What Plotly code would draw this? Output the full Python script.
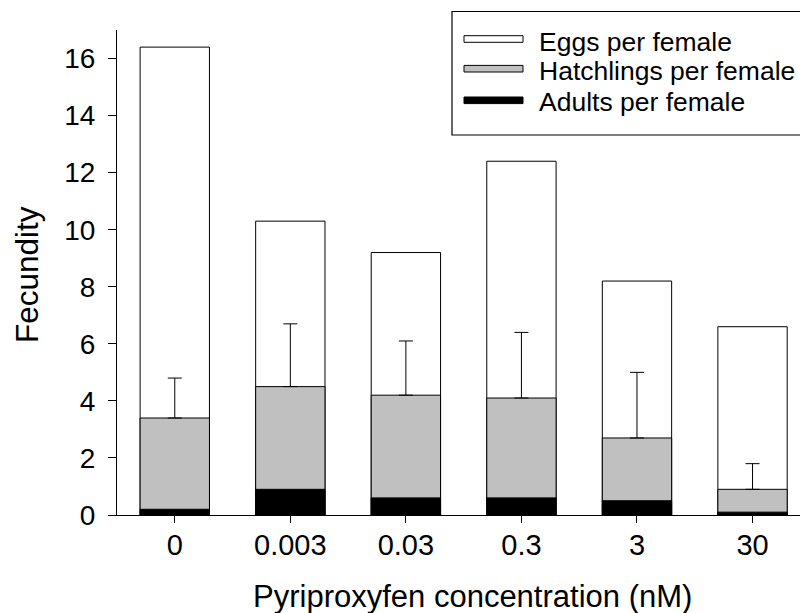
import plotly.graph_objects as go

# ---- data ----
concentrations = ["0", "0.003", "0.03", "0.3", "3", "30"]
eggs_per_female = [16.4, 10.3, 9.2, 12.4, 8.2, 6.6]
hatchlings_per_female = [3.4, 4.5, 4.2, 4.1, 2.7, 0.9]
hatchlings_err_upper = [1.4, 2.2, 1.9, 2.3, 2.3, 0.9]
adults_per_female = [0.2, 0.9, 0.6, 0.6, 0.5, 0.1]
series_names = ["Eggs per female", "Hatchlings per female", "Adults per female"]
series_colors = ["#FFFFFF", "#C0C0C0", "#000000"]

# the page body has an 8px margin, so the figure is drawn 8px in from the top-left
OFF = 8
W, H = 808 - OFF, 613 - OFF
ML, MR, MT, MB = 117 - OFF, 0, 30 - OFF, 613 - 515
PW, PH = W - ML - MR, H - MT - MB
FONT = "Liberation Sans, Arial, sans-serif"


def px_x(px):  # screen px -> paper
    return (px - OFF - ML) / PW


def px_y(py):  # screen px -> paper
    return (MT + PH - (py - OFF)) / PH


fig = go.Figure()
x_idx = list(range(len(concentrations)))

fig.add_trace(go.Bar(
    x=x_idx, y=eggs_per_female, width=0.6, name=series_names[0],
    marker=dict(color=series_colors[0], line=dict(color="black", width=1)),
    showlegend=False,
))
fig.add_trace(go.Bar(
    x=x_idx, y=hatchlings_per_female, width=0.6, name=series_names[1],
    marker=dict(color=series_colors[1], line=dict(color="black", width=1)),
    error_y=dict(type="data", symmetric=False, array=hatchlings_err_upper,
                 arrayminus=[0] * len(hatchlings_err_upper),
                 color="black", thickness=1, width=7),
    showlegend=False,
))
fig.add_trace(go.Bar(
    x=x_idx, y=adults_per_female, width=0.6, name=series_names[2],
    marker=dict(color=series_colors[2], line=dict(color="black", width=1)),
    showlegend=False,
))

# ---- custom legend (long flat swatches) ----
shapes = [dict(type="rect", xref="paper", yref="paper",
               x0=px_x(452), x1=px_x(812), y0=px_y(135), y1=px_y(11.5),
               line=dict(color="black", width=1.2), fillcolor="white", layer="above")]
annotations = []
row_sym_y = [39, 68.7, 100.3]
row_txt_y = [41.5, 71, 101.5]
for i, name in enumerate(series_names):
    shapes.append(dict(type="rect", xref="paper", yref="paper",
                       x0=px_x(464), x1=px_x(523),
                       y0=px_y(row_sym_y[i] + 3.3), y1=px_y(row_sym_y[i] - 3.3),
                       line=dict(color="black", width=1), fillcolor=series_colors[i],
                       layer="above"))
    annotations.append(dict(text=name, xref="paper", yref="paper",
                            x=px_x(537), y=px_y(row_txt_y[i]),
                            xanchor="left", yanchor="middle", showarrow=False,
                            font=dict(family=FONT, size=26.5, color="black")))

# axis titles
annotations.append(dict(text="Pyriproxyfen concentration (nM)", xref="paper", yref="paper",
                        x=px_x(472), y=px_y(596), xanchor="center", yanchor="middle",
                        showarrow=False, font=dict(family=FONT, size=31, color="black")))
annotations.append(dict(text="Fecundity", xref="paper", yref="paper",
                        x=px_x(27), y=px_y(275), xanchor="center", yanchor="middle",
                        textangle=-90, showarrow=False,
                        font=dict(family=FONT, size=31.5, color="black")))

fig.update_layout(
    width=W, height=H,
    margin=dict(l=ML, r=MR, t=MT, b=MB, pad=0),
    barmode="overlay",
    plot_bgcolor="white", paper_bgcolor="white",
    font=dict(family=FONT, color="black"),
    shapes=shapes, annotations=annotations,
    showlegend=False,
)
fig.update_xaxes(
    range=[-0.5, 5.48], tickmode="array", tickvals=x_idx, ticktext=concentrations,
    showline=True, linecolor="black", linewidth=1, mirror=False,
    ticks="outside", ticklen=7, tickcolor="black", tickwidth=1,
    tickfont=dict(family=FONT, size=29, color="black"),
    showgrid=False, zeroline=False, ticklabelstandoff=-3,
)
fig.update_yaxes(
    range=[0, 17], tickmode="array", tickvals=[0, 2, 4, 6, 8, 10, 12, 14, 16],
    showline=True, linecolor="black", linewidth=1,
    ticks="outside", ticklen=8, tickcolor="black", tickwidth=1,
    tickfont=dict(family=FONT, size=28, color="black"),
    showgrid=False, zeroline=False, ticklabelstandoff=7,
)

fig.write_html("out.html")
